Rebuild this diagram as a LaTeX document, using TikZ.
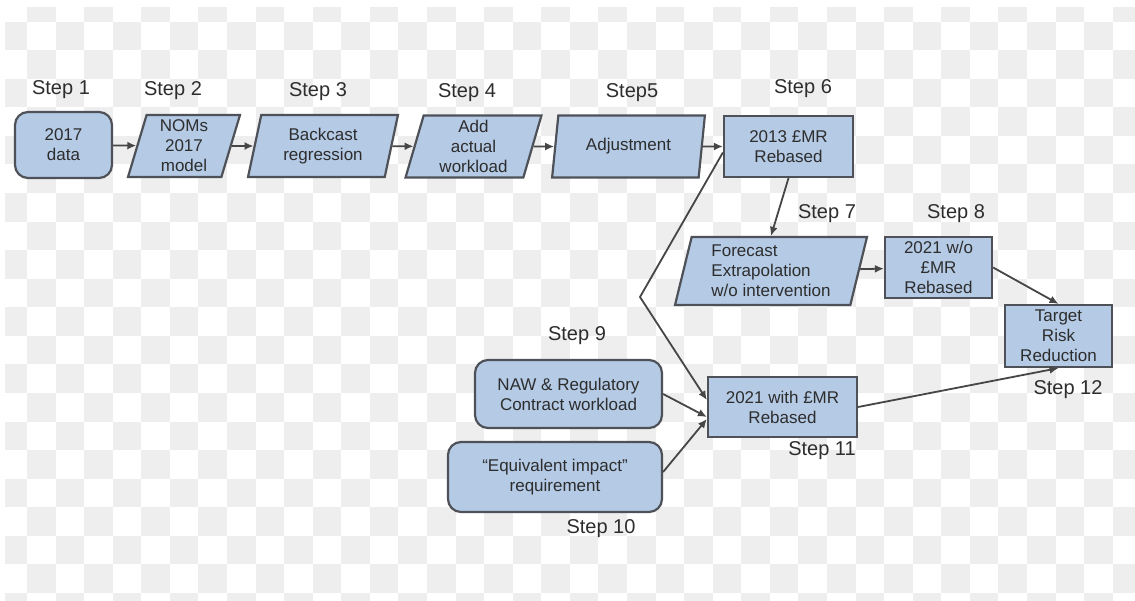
\documentclass[tikz,border=0pt]{standalone}
\usepackage{fontspec}
\setmainfont{Liberation Sans}
\usetikzlibrary{shapes.geometric,arrows.meta,calc}

\definecolor{boxfill}{RGB}{180,202,229}
\definecolor{boxline}{RGB}{78,82,88}
\definecolor{wire}{RGB}{70,70,70}
\definecolor{ink}{RGB}{45,45,45}
\definecolor{check}{RGB}{238,238,238}

\tikzset{
  box/.style={draw=boxline, fill=boxfill, line width=2.2pt, text=ink,
    font=\fontsize{17}{20}\selectfont, align=center, inner xsep=2pt, inner ysep=0pt},
  rbox/.style={box, rectangle, rounded corners=13pt},
  sbox/.style={box, rectangle},
  pbox/.style={box, trapezium, trapezium left angle=76, trapezium right angle=104,
    trapezium stretches=true},
  steplabel/.style={text=ink, font=\fontsize{20}{24}\selectfont, inner sep=0pt},
  flow/.style={draw=wire, line width=1.8pt, -{Latex[length=9pt,width=8pt]}},
}

\begin{document}
\begin{tikzpicture}[x=1pt, y=-1pt]
\useasboundingbox (0,0) rectangle (1135,601);
\fill[white] (0,0) rectangle (1135,601);

% checkered backdrop
\begin{scope}
  \clip (5,8) rectangle (1135,601);
  \foreach \i in {0,...,40}{
    \foreach \j in {-1,...,21}{
      \pgfmathtruncatemacro\parity{mod(\i+\j+2,2)}
      \ifnum\parity=0
        \fill[check] ({-1.57+28.57*\i},{21.6+28.57*\j}) rectangle +(28.57,28.57);
      \fi
    }
  }
\end{scope}

% process boxes
\node[rbox, minimum width=97pt, minimum height=66pt] (b1) at (63.5,145) {2017\\data};
\node[pbox, minimum width=112pt, minimum height=62pt] (b2) at (184,146) {NOMs\\2017\\model};
\node[pbox, minimum width=150pt, minimum height=62pt] (b3) at (323,146) {Backcast\\regression};
\node[pbox, minimum width=137pt, minimum height=62pt] (b4) at (473.5,146.5) {Add\\actual\\workload};
\node[pbox, minimum width=153pt, minimum height=62pt] (b5) at (628.5,146.5) {Adjustment};
\node[sbox, minimum width=129pt, minimum height=61pt] (b6) at (788.5,146.5) {2013 £MR\\Rebased};
\node[pbox, minimum width=192pt, minimum height=68pt, align=left] (b7) at (771,271) {Forecast\\Extrapolation\\w/o intervention};
\node[sbox, minimum width=107pt, minimum height=61pt] (b8) at (938.5,267.5) {2021 w/o\\£MR\\Rebased};
\node[sbox, minimum width=107pt, minimum height=62pt] (b12) at (1058.5,336) {Target\\Risk\\Reduction};
\node[rbox, minimum width=187pt, minimum height=68pt] (b9) at (568.5,394) {NAW \& Regulatory\\Contract workload};
\node[rbox, minimum width=214pt, minimum height=70pt] (b10) at (555,477) {“Equivalent impact”\\requirement};
\node[sbox, minimum width=149pt, minimum height=60pt] (b11) at (782.5,407) {2021 with £MR\\Rebased};

% step captions
\node[steplabel] (s1) at (61,90) {Step 1};
\node[steplabel] (s2) at (173,91) {Step 2};
\node[steplabel] (s3) at (318,92) {Step 3};
\node[steplabel] (s4) at (467,93) {Step 4};
\node[steplabel] (s5) at (632,93) {Step5};
\node[steplabel] (s6) at (803,89) {Step 6};
\node[steplabel] (s7) at (827,214) {Step 7};
\node[steplabel] (s8) at (956,214) {Step 8};
\node[steplabel] (s9) at (577,336) {Step 9};
\node[steplabel] (s10) at (601,529) {Step 10};
\node[steplabel] (s11) at (822,451) {Step 11};
\node[steplabel] (s12) at (1068,390) {Step 12};

% connectors
\draw[flow] (b1) -- (b2);
\draw[flow] (b2) -- (b3);
\draw[flow] (b3) -- (b4);
\draw[flow] (b4) -- (b5);
\draw[flow] (b5) -- (b6);
\draw[flow] (b6.south) -- (b7.north);
\draw[flow] (b7) -- (b8);
\draw[flow] (b8.east) -- (b12.north);
\coordinate (knee) at (640,297);
\draw[flow] ($(b6.west)+(0,6)$) -- (knee) -- ($(b11.west)+(0,-7)$);
\draw[flow] (b9.east) -- ($(b11.west)+(0,10)$);
\draw[flow] ($(b10.east)+(0,-5)$) -- ($(b11.west)+(0,12)$);
\draw[flow] (b11.east) -- (b12.south);
\end{tikzpicture}
\end{document}
